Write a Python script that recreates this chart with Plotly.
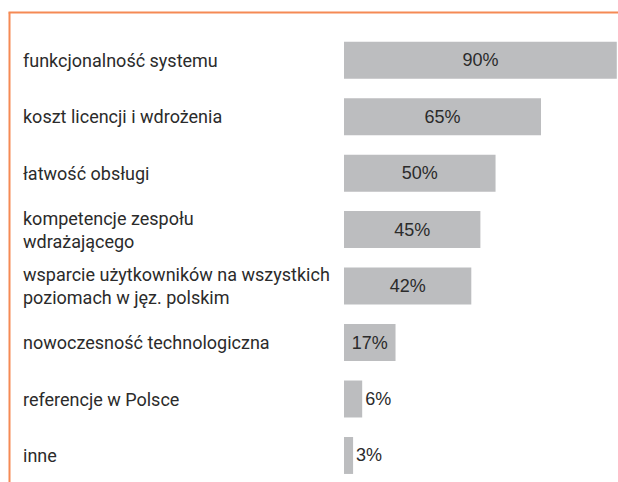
import plotly.graph_objects as go

categories = [
    "funkcjonalność systemu",
    "koszt licencji i wdrożenia",
    "łatwość obsługi",
    "kompetencje zespołu<br>wdrażającego",
    "wsparcie użytkowników na wszystkich<br>poziomach w jęz. polskim",
    "nowoczesność technologiczna",
    "referencje w Polsce",
    "inne",
]
values = [90, 65, 50, 45, 42, 17, 6, 3]
value_labels = ["90%", "65%", "50%", "45%", "42%", "17%", "6%", "3%"]
text_positions = ["inside", "inside", "inside", "inside", "inside", "inside", "outside", "outside"]

W, H = 618, 482
TOP = 32
BAR_COLOR = "#bcbdbf"
ORANGE = "#f58a55"
LABEL_FONT = "Roboto, 'Liberation Sans', sans-serif"
VALUE_FONT = "'Liberation Sans', Arial, sans-serif"

ys = list(range(len(categories)))

fig = go.Figure(
    go.Bar(
        x=values,
        y=ys,
        orientation="h",
        marker=dict(color=BAR_COLOR, line=dict(width=0)),
        width=0.655,
        text=value_labels,
        textposition=text_positions,
        insidetextanchor="middle",
        textfont=dict(family=VALUE_FONT, size=18, color="#2b2b2b"),
        outsidetextfont=dict(family=VALUE_FONT, size=18, color="#2b2b2b"),
        insidetextfont=dict(family=VALUE_FONT, size=18, color="#2b2b2b"),
        constraintext="none",
        cliponaxis=False,
        hoverinfo="skip",
    )
)

for i, c in enumerate(categories):
    fig.add_annotation(
        x=21 / W, xref="paper", xanchor="left",
        y=i, yref="y", yanchor="middle",
        text=c, showarrow=False, align="left",
        font=dict(family=LABEL_FONT, size=18, color="#2b2b2b"),
    )

# orange frame lines
fig.add_shape(type="line", xref="paper", yref="paper",
              x0=8.5 / W, x1=1.0, y0=1 + (TOP - 12.5) / (H - TOP), y1=1 + (TOP - 12.5) / (H - TOP),
              line=dict(color=ORANGE, width=2))
fig.add_shape(type="line", xref="paper", yref="paper",
              x0=9.5 / W, x1=9.5 / W, y0=-0.01, y1=1 + (TOP - 12.5) / (H - TOP),
              line=dict(color=ORANGE, width=2))

fig.update_layout(
    width=W, height=H,
    margin=dict(l=0, r=0, t=TOP, b=0, autoexpand=False),
    paper_bgcolor="white", plot_bgcolor="white",
    showlegend=False,
    xaxis=dict(domain=[344 / W, 1], range=[0, 90.4], visible=False, fixedrange=True),
    yaxis=dict(range=[7.47, -0.5], visible=False, fixedrange=True),
)

fig.write_html("out.html")
